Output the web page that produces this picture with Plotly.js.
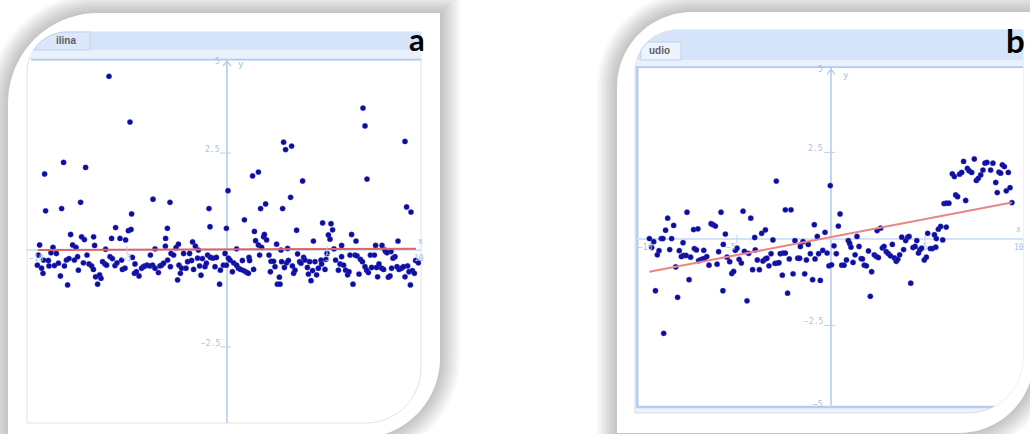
<!DOCTYPE html>
<html><head><meta charset="utf-8">
<script src="https://cdn.plot.ly/plotly-3.0.1.min.js"></script>
<style>html,body{margin:0;padding:0;background:#fff;overflow:hidden}#chart{width:1030px;height:434px}</style>
</head><body><div id="chart"></div>
<script>
// ---------- data: panel a (scatter + fitted line) ----------
const aPointsX = [-8.17,-7.07,-9.12,-7.32,-9.07,-8.27,-3.70,-2.85,-4.77,-0.90,
0.05,-0.85,-2.98,-0.03,-5.57,-7.82,-7.27,-7.13,-6.67,-5.77,
-5.35,-5.07,-4.93,-4.80,-9.37,-7.72,-7.55,-6.62,-3.07,-3.08,
-2.55,-2.43,-1.72,-1.58,-6.07,-3.60,-9.43,-9.17,-8.93,-8.70,
-8.80,-8.53,-9.48,-9.27,-9.20,-8.90,-8.63,-8.43,-8.33,-8.13,
-8.03,-7.97,-7.90,-7.63,-7.43,-7.47,-7.18,-7.00,-6.90,-6.77,
-6.68,-6.57,-6.47,-6.37,-6.30,-6.22,-6.10,-6.02,-5.85,-5.73,
-5.60,-5.50,-5.27,-5.23,-5.10,-4.73,-4.60,-4.63,-4.53,-4.40,
-4.27,-4.18,-4.10,-4.00,-3.83,-3.85,-3.72,-3.60,-3.43,-3.35,
-3.27,-3.17,-2.97,-2.80,-2.83,-2.67,-2.47,-2.40,-2.33,-2.27,
-2.17,-2.05,-1.97,-1.87,-1.77,-1.67,-1.47,-1.43,-1.37,-1.30,
-1.23,-1.10,-1.03,-0.97,-0.83,-0.70,-0.60,-0.53,-0.37,-0.33,
-0.18,-0.10,-0.03,0.07,
2.83,2.93,3.23,8.90,1.28,1.57,3.78,7.00,1.68,1.93,2.78,3.18,8.98,9.20,0.87,
1.37,1.43,1.57,1.73,1.83,1.87,1.98,2.48,2.70,3.03,3.48,4.32,4.78,5.20,5.28,5.07,5.15,5.35,5.73,6.23,6.45,7.43,7.75,7.93,8.20,8.55,0.48,
0.15,0.27,0.33,0.48,0.57,0.68,0.77,0.83,0.97,1.07,
1.10,1.13,1.33,1.63,2.10,2.17,2.20,2.33,2.40,2.52,
2.62,2.65,2.73,2.87,2.98,3.07,3.27,3.33,3.40,3.53,
3.63,3.70,3.83,3.90,4.02,4.07,4.13,4.20,4.28,4.40,
4.48,4.57,4.70,4.73,4.90,4.95,5.00,5.43,5.57,5.65,
5.73,5.83,5.93,6.03,6.10,6.15,6.30,6.40,6.50,6.60,
6.67,6.77,6.90,6.98,7.07,7.17,7.23,7.37,7.48,7.53,
7.60,7.73,7.83,7.90,8.00,8.07,8.15,8.23,8.30,8.40,
8.50,8.60,8.73,8.82,8.90,9.03,9.10,9.17,9.27,9.37,
9.43,9.57,
-5.90,-4.85,6.80,6.90];
const aPointsY = [2.26,2.13,1.96,1.23,1.01,1.07,1.31,1.23,0.93,1.07,
1.53,0.60,0.56,0.56,0.58,0.40,0.34,0.27,0.34,0.30,
0.30,0.26,0.50,0.53,0.13,0.13,0.07,0.12,0.30,0.10,
0.06,0.15,0.21,0.10,0.02,0.03,-0.13,-0.26,-0.27,0.07,
-0.07,-0.09,-0.39,-0.47,-0.60,-0.41,-0.40,-0.34,-0.67,-0.41,
-0.26,-0.90,-0.22,-0.26,-0.52,-0.17,-0.33,-0.13,-0.36,-0.41,
-0.50,-0.69,-0.88,-0.64,-0.73,-0.30,-0.36,-0.39,-0.17,-0.22,
-0.40,-0.33,-0.26,-0.50,-0.47,-0.19,-0.36,-0.60,-0.56,-0.67,
-0.47,-0.43,-0.41,-0.39,-0.13,-0.41,-0.39,-0.47,-0.58,-0.41,
-0.39,-0.34,-0.26,-0.09,-0.43,-0.13,-0.77,-0.39,-0.60,-0.47,
-0.09,-0.47,-0.30,-0.09,-0.27,-0.50,-0.21,0.00,-0.41,-0.65,
-0.22,-0.43,-0.34,-0.13,-0.19,-0.21,-0.43,-0.19,-0.88,-0.52,
-0.39,-0.09,-0.39,-0.21,
2.78,2.59,2.68,2.80,1.91,2.01,1.78,1.83,1.07,1.19,1.07,1.36,1.11,0.98,0.78,
0.48,0.24,0.13,0.07,0.34,0.40,0.26,0.15,0.00,0.04,0.51,0.23,0.70,0.68,0.52,0.39,0.28,0.03,0.12,0.40,0.23,0.12,0.12,-0.04,-0.04,0.23,0.03,
-0.26,-0.56,-0.33,-0.39,-0.47,-0.50,-0.27,-0.53,-0.57,-0.60,
-0.19,-0.27,-0.50,-0.13,-0.13,-0.56,-0.29,-0.29,-0.43,-0.88,
-0.70,-0.88,-0.30,-0.45,-0.33,-0.27,-0.41,-0.60,-0.52,-0.10,
-0.30,-0.34,-0.19,-0.26,-0.45,-0.62,-0.30,-0.79,-0.53,-0.30,
-0.64,-0.47,-0.26,-0.36,-0.50,-0.24,-0.09,-0.26,-0.52,-0.36,
-0.17,-0.39,-0.52,-0.64,-0.56,-0.13,-0.88,-0.13,-0.15,-0.62,
-0.24,-0.30,-0.43,-0.52,-0.58,-0.13,-0.45,-0.13,-0.45,-0.69,
-0.36,-0.47,-0.50,0.00,-0.07,-0.70,-0.67,-0.47,-0.21,-0.17,
-0.43,-0.50,-0.47,-0.43,-0.69,-0.41,-0.56,-0.90,-0.53,-0.60,
-0.27,-0.33,
4.48,3.30,3.66,3.20];
const aFitX = [-9.45, 9.45];
const aFitY = [0.00, 0.03];

// ---------- data: panel b (scatter + fitted line) ----------
const bPointsX = [-2.91,-0.04,-7.66,-5.85,-4.68,-8.69,-8.37,-4.27,-2.43,-2.13,
-8.80,-7.31,-7.08,-6.38,-6.28,-6.15,-5.62,-3.69,-3.49,-0.89,
-0.32,-0.73,-9.66,-9.43,-9.03,-8.94,-8.48,-7.87,-7.27,-7.16,
-9.54,-9.24,-9.15,-8.58,-8.07,-7.96,-7.84,-7.71,-7.47,-7.04,
-6.92,-6.81,-6.74,-6.77,-6.61,-6.49,-6.06,-5.98,-5.73,-5.53,
-5.39,-5.28,-5.18,-5.09,-5.00,-4.89,-4.77,-4.61,-4.38,-4.06,
-4.03,-4.17,-3.81,-3.92,-3.62,-3.49,-3.41,-3.30,-3.19,-3.09,
-2.98,-2.87,-2.77,-2.70,-2.55,-2.43,-2.59,-2.22,-2.02,-1.92,
-1.77,-1.67,-1.63,-1.49,-1.40,-1.31,-1.21,-1.10,-0.98,-0.85,
-0.66,-0.57,-0.44,-0.21,-0.11,0.03,-9.34,-8.16,-7.55,-5.75,
-4.47,-2.31,-8.90,-8.26,
0.48,0.39,0.16,0.28,0.57,0.69,0.82,0.92,0.99,1.06,
1.17,1.28,1.38,1.49,1.60,1.67,1.77,1.88,1.99,2.16,
2.09,2.30,2.41,2.52,2.45,2.64,2.73,2.82,2.94,3.05,
3.16,3.26,3.37,3.47,3.55,3.65,3.76,3.86,3.97,4.08,
4.15,4.24,4.36,4.47,4.56,4.65,4.72,4.82,4.96,5.07,
5.14,5.28,5.39,5.50,5.57,5.71,5.60,5.83,5.94,6.13,
6.01,6.13,6.27,6.63,6.73,7.16,6.45,6.56,6.84,6.95,
7.05,7.25,7.34,7.48,7.62,7.73,7.83,7.96,8.08,8.19,
8.29,8.49,8.61,8.76,8.84,8.93,9.02,9.11,9.22,9.43,
9.32,9.52,9.62];
const bPointsY = [1.67,1.54,0.77,0.77,0.80,0.60,0.39,0.60,0.84,0.84,
0.25,0.27,0.29,0.44,0.41,0.37,0.14,0.16,0.26,0.41,
0.19,0.07,0.01,-0.08,0.01,0.01,0.01,-0.11,-0.28,-0.32,
-0.25,-0.46,-0.34,-0.31,-0.34,-0.51,-0.48,-0.48,-0.53,-0.63,
-0.60,-0.58,-0.57,-0.33,-0.51,-0.76,-0.73,-0.37,-0.16,-0.53,
-0.66,-1.00,-0.94,-0.33,-0.27,-0.59,-0.70,-0.36,-0.42,0.04,
-0.32,-0.89,-0.89,-0.61,-0.64,-0.58,-0.56,-0.78,-0.43,-0.03,
-0.71,-0.70,-0.69,-0.43,-0.41,-0.41,-1.05,-0.58,-1.01,-0.05,
-0.56,-0.56,-0.22,-0.08,-1.01,-0.61,-0.16,-0.43,-1.18,-0.58,
-0.43,-1.20,-0.33,-0.41,-0.78,-0.75,-1.50,-1.69,-1.18,-1.50,
-1.79,-1.57,-2.73,-0.81,
0.72,0.37,-0.20,-0.43,-0.76,-0.76,-0.61,-0.05,-0.13,-0.24,
-0.68,-0.46,0.07,-0.22,-0.57,-0.58,-0.76,-0.78,-0.35,-0.95,
-1.66,-0.46,-0.51,-0.54,0.24,0.31,-0.26,-0.22,-0.37,-0.43,
-0.49,-0.16,-0.55,-0.65,-0.59,-0.46,0.05,-0.31,-0.05,0.05,
0.07,-1.28,-0.25,-0.22,-0.05,-0.41,-0.32,-0.27,-0.61,-0.53,
0.16,-0.28,-0.28,0.12,-0.24,0.28,0.01,0.36,-0.03,0.34,
1.02,1.03,1.03,1.27,1.22,1.11,1.88,1.80,1.87,1.92,
2.24,2.04,1.97,1.92,2.31,1.69,1.75,1.85,1.99,2.19,
2.21,1.99,2.19,1.63,1.34,1.93,1.90,2.14,2.09,1.92,
1.39,1.48,1.05];
const bFitX = [-9.66, 9.62];
const bFitY = [-0.95, 1.05];

// ---------- tick labels ----------
const aYTicks = [2.5, -2.5];
const aYTickLabels = ['2.5', '\u22122.5'];
const aXTicks = [-5, 5];
const aXTickLabels = ['\u221210', '\u22125', '5', '10'];
const aXTickLabelPos = [-9.55, -5, 5, 9.6];
const bYTicks = [2.5, -2.5];
const bYTickLabels = ['2.5', '\u22122.5'];
const bXTicks = [-5, 5];
const bXTickLabels = ['\u221210', '\u22125', '5', '10'];
const bXTickLabelPos = [-9.85, -5.3, 5, 10.0];
const panelLabels = ['a', 'b'];
const tabLabels = ['ilina', 'udio'];

// ---------- frame geometry helpers (pixels -> paper) ----------
const W = 1030, H = 434;
function leaf(x0, y0, x1, y1, r1, r2) {
  const p = [], N = 20;
  for (let i = 0; i <= N; i++) { const t = Math.PI + Math.PI / 2 * i / N; p.push([x0 + r1 + r1 * Math.cos(t), y0 + r1 + r1 * Math.sin(t)]); }
  p.push([x1, y0]);
  for (let i = 0; i <= N; i++) { const t = Math.PI / 2 * i / N; p.push([x1 - r2 + r2 * Math.cos(t), y1 - r2 + r2 * Math.sin(t)]); }
  p.push([x0, y1]);
  return p;
}
function clip(poly, axis, v, keepGreater) {
  const out = [];
  const inside = q => keepGreater ? q[axis] >= v : q[axis] <= v;
  for (let i = 0; i < poly.length; i++) {
    const a = poly[i], b = poly[(i + 1) % poly.length];
    const ia = inside(a), ib = inside(b);
    if (ia) out.push(a);
    if (ia !== ib) { const t = (v - a[axis]) / (b[axis] - a[axis]); out.push([a[0] + t * (b[0] - a[0]), a[1] + t * (b[1] - a[1])]); }
  }
  return out;
}
function band(poly, ya, yb, xa, xb) {
  let p = clip(poly, 1, ya, true); p = clip(p, 1, yb, false);
  if (xa != null) p = clip(p, 0, xa, true);
  if (xb != null) p = clip(p, 0, xb, false);
  return p;
}
function toPath(p) { return 'M' + p.map(q => (q[0] / W).toFixed(5) + ',' + (1 - q[1] / H).toFixed(5)).join('L') + 'Z'; }
function shp(p, fill, line, lw, layer) {
  return { type: 'path', xref: 'paper', yref: 'paper', path: toPath(p), fillcolor: fill,
    line: { color: line || 'rgba(0,0,0,0)', width: line ? (lw || 1) : 0 }, layer: layer || 'below' };
}

const outerA = [8, 13, 440, 438, 90, 80];
const innerA = leaf(27, 32, 421, 423, 40, 55);
const outerB = [617, 12, 1034, 433, 75, 75];
const innerB = leaf(635, 30, 1023, 413, 42, 55);

const shapes = [];
const shadowSteps = [20, 18, 16, 14, 12, 10, 8, 6, 4, 2];
[outerA, outerB].forEach(o => {
  shadowSteps.forEach(e => shapes.push(shp(leaf(o[0] - e, o[1] - e, o[2] + e, o[3] + e, o[4] + e, o[5] + e), 'rgba(0,0,0,0.024)')));
  shapes.push(shp(leaf(o[0], o[1], o[2], o[3], o[4], o[5]), '#ffffff'));
});
// panel a screenshot
shapes.push(shp(innerA, '#ffffff', '#e2e2e2', 1));
shapes.push(shp(band(innerA, 32, 59), '#e9f1fc'));
shapes.push(shp(band(innerA, 32, 50), '#d5e4f8'));
shapes.push(shp(band(innerA, 32, 50, null, 90), '#dce8fa', '#bdd2f0', 1));
shapes.push(shp(band(innerA, 58.8, 60.4, 31, null), '#aec8ee'));
// panel b screenshot
shapes.push(shp(innerB, '#eef3fa', '#d6dfec', 1));
shapes.push(shp(band(innerB, 68, 407, 637, null), '#ffffff'));
shapes.push(shp(band(innerB, 30, 67), '#e9f1fc'));
shapes.push(shp(band(innerB, 30, 60), '#d5e4f8'));
shapes.push(shp(band(innerB, 42, 60, 641, 681), '#eef4fd', '#bdd2f0', 1));
shapes.push(shp(band(innerB, 66.3, 68), '#aec8ee'));
shapes.push(shp(band(innerB, 68, 407, 636, 638.5), '#b5ccee'));
shapes.push(shp(band(innerB, 405.8, 408.3, 636, null), '#b5ccee'));

// tick marks and axis arrows (data-anchored)
const tickColor = '#b9d0f0';
function yTick(xr, yr, t) { return { type: 'line', xref: xr, yref: yr, xsizemode: 'pixel', xanchor: 0, x0: -7, x1: 4, y0: t, y1: t, line: { color: tickColor, width: 1 } }; }
function xTick(xr, yr, t) { return { type: 'line', xref: xr, yref: yr, ysizemode: 'pixel', yanchor: 0, y0: -4, y1: 4, x0: t, x1: t, line: { color: tickColor, width: 1 } }; }
aYTicks.forEach(t => shapes.push(yTick('x', 'y', t)));
aXTicks.forEach(t => shapes.push(xTick('x', 'y', t)));
bYTicks.forEach(t => shapes.push(yTick('x2', 'y2', t)));
bXTicks.forEach(t => shapes.push(xTick('x2', 'y2', t)));
shapes.push({ type: 'path', xref: 'x', yref: 'y', xsizemode: 'pixel', ysizemode: 'pixel', xanchor: 0, yanchor: 4.87, path: 'M-4,-5L0,0L4,-5', line: { color: '#aac6f0', width: 1.2 } });
shapes.push({ type: 'path', xref: 'x2', yref: 'y2', xsizemode: 'pixel', ysizemode: 'pixel', xanchor: 0, yanchor: 4.9, path: 'M-4,-5L0,0L4,-5', line: { color: '#aac6f0', width: 1.2 } });

// ---------- annotations ----------
const tickFont = { family: 'DejaVu Sans Mono', size: 8, color: '#a7c0e6' };
const ann = [];
function lbl(xr, yr, x, y, text, xa, ya, extra) { return Object.assign({ xref: xr, yref: yr, x: x, y: y, text: text, showarrow: false, xanchor: xa, yanchor: ya, font: tickFont }, extra || {}); }
aYTicks.forEach((t, i) => ann.push(lbl('x', 'y', -0.25, t, aYTickLabels[i], 'right', 'bottom', { yshift: -3 })));
bYTicks.forEach((t, i) => ann.push(lbl('x2', 'y2', -0.3, t, bYTickLabels[i], 'right', 'bottom', { yshift: -3 })));
aXTickLabelPos.forEach((p, i) => ann.push(lbl('x', 'y', p, 0, aXTickLabels[i], 'center', 'top', { yshift: -2 })));
bXTickLabelPos.forEach((p, i) => ann.push(lbl('x2', 'y2', p, 0, bXTickLabels[i], 'center', 'top', { yshift: -2 })));
ann.push(lbl('x', 'y', -0.25, 4.87, '5', 'right', 'middle'));
ann.push(lbl('x', 'y', 0.45, 4.8, 'y', 'left', 'middle', { font: { family: 'DejaVu Sans Mono', size: 9, color: '#a7c0e6' } }));
ann.push(lbl('x', 'y', 9.65, 0.05, 'x', 'center', 'bottom'));
ann.push(lbl('x2', 'y2', -0.3, 4.9, '5', 'right', 'middle'));
ann.push(lbl('x2', 'y2', -0.3, -4.78, '\u22125', 'right', 'middle'));
ann.push(lbl('x2', 'y2', 0.55, 4.75, 'y', 'left', 'middle', { font: { family: 'DejaVu Sans Mono', size: 9, color: '#a7c0e6' } }));
ann.push(lbl('x2', 'y2', 9.95, 0.08, 'x', 'center', 'bottom'));
// panel letters
ann.push({ xref: 'paper', yref: 'paper', x: 417 / W, y: 1 - 39 / H, text: panelLabels[0], showarrow: false, xanchor: 'center', yanchor: 'middle', font: { family: 'Lato', size: 31, color: '#000', weight: 'bold' } });
ann.push({ xref: 'paper', yref: 'paper', x: 1015 / W, y: 1 - 40 / H, text: panelLabels[1], showarrow: false, xanchor: 'center', yanchor: 'middle', font: { family: 'Lato', size: 33, color: '#000', weight: 'bold' } });
// tab captions
ann.push({ xref: 'paper', yref: 'paper', x: 66 / W, y: 1 - 41 / H, text: tabLabels[0], showarrow: false, xanchor: 'center', yanchor: 'middle', font: { family: 'Liberation Sans', size: 10, color: '#5a5f66', weight: 'bold' } });
ann.push({ xref: 'paper', yref: 'paper', x: 659 / W, y: 1 - 51 / H, text: tabLabels[1], showarrow: false, xanchor: 'center', yanchor: 'middle', font: { family: 'Liberation Sans', size: 10, color: '#5a5f66', weight: 'bold' } });

// ---------- traces ----------
const dotStyle = { color: '#0e0e9c', size: 5.3, line: { color: '#3a3ad0', width: 0.4 } };
const traces = [
  { type: 'scatter', mode: 'markers', x: aPointsX, y: aPointsY, xaxis: 'x', yaxis: 'y', marker: dotStyle, hoverinfo: 'skip' },
  { type: 'scatter', mode: 'lines', x: aFitX, y: aFitY, xaxis: 'x', yaxis: 'y', line: { color: '#e06464', width: 2 }, hoverinfo: 'skip' },
  { type: 'scatter', mode: 'markers', x: bPointsX, y: bPointsY, xaxis: 'x2', yaxis: 'y2', marker: dotStyle, hoverinfo: 'skip' },
  { type: 'scatter', mode: 'lines', x: bFitX, y: bFitY, xaxis: 'x2', yaxis: 'y2', line: { color: '#ea8585', width: 2 }, hoverinfo: 'skip' }
];

function ax(domain, range, anchor, zc) {
  return { domain: domain, range: range, anchor: anchor, showgrid: false, showticklabels: false, ticks: '', showline: false,
    zeroline: true, zerolinecolor: zc, zerolinewidth: 2, fixedrange: true };
}
const layout = {
  width: W, height: H, margin: { l: 0, r: 0, t: 0, b: 0, pad: 0 },
  paper_bgcolor: '#ffffff', plot_bgcolor: 'rgba(0,0,0,0)', showlegend: false, hovermode: false,
  xaxis: ax([27 / W, 421 / W], [-10, 9.7], 'y', '#c2d7f4'),
  yaxis: ax([1 - 423 / H, 1 - 60 / H], [-4.46, 4.90], 'x', '#d3e2f6'),
  xaxis2: ax([637 / W, 1023 / W], [-10.32, 10.21], 'y2', '#c2d7f4'),
  yaxis2: ax([1 - 407 / H, 1 - 68 / H], [-4.86, 4.94], 'x2', '#d3e2f6'),
  shapes: shapes, annotations: ann
};
Plotly.newPlot('chart', traces, layout, { displayModeBar: false, staticPlot: true });
</script></body></html>
